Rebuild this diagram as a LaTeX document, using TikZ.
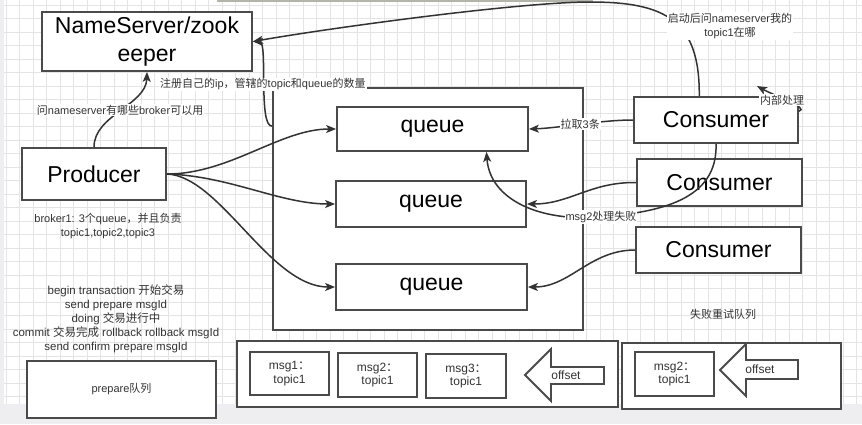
\documentclass[tikz,border=0pt]{standalone}
\usepackage{fontspec}
\setmainfont{Liberation Sans}
\newfontfamily\cjk{Noto Sans CJK SC}
\usetikzlibrary{arrows.meta}
\definecolor{gridcol}{HTML}{E4E4E4}
\definecolor{bandcol}{HTML}{EEEEF0}
\definecolor{topcol}{HTML}{B4B4AC}
\definecolor{boxcol}{HTML}{4A4A4A}
\definecolor{linkcol}{HTML}{333333}
\definecolor{textcol}{HTML}{333333}
\newcommand{\zh}[1]{{\cjk #1}}

\begin{document}
\begin{tikzpicture}[x=1pt,y=-1pt,
  box/.style={draw=boxcol,line width=1.8pt,fill=white,inner sep=0pt,align=center},
  bigtext/.style={font=\fontsize{23}{28}\selectfont},
  smalltext/.style={font=\fontsize{11}{14}\selectfont,text=textcol,align=center},
  msgtext/.style={font=\fontsize{12}{13.5}\selectfont,text=textcol,align=center},
  edgelabel/.style={smalltext,fill=white,inner sep=1pt},
  arrowshape/.style={draw=boxcol,line width=1.8pt,fill=white,line join=miter},
  link/.style={draw=linkcol,line width=1.5pt,-{Stealth[length=10pt,width=8pt,inset=2.5pt]}}]
\useasboundingbox (0,0) rectangle (862,424);
\fill[white] (0,0) rectangle (862,424);
\foreach \gx in {6,19.5,...,862} \draw[gridcol,line width=0.8pt] (\gx,0) -- (\gx,404);
\foreach \gy in {5,18.5,...,404} \draw[gridcol,line width=0.8pt] (0,\gy) -- (862,\gy);
\fill[bandcol] (0,404) rectangle (862,424);
\fill[bandcol] (0,0) rectangle (4,404);
\draw[topcol,line width=2pt] (217,1) -- (593,1);

\node[box,minimum width=310pt,minimum height=242pt] (broker) at (428,209) {};
\node[box,bigtext,minimum width=210pt,minimum height=59pt] (nameserver) at (147,41.5) {NameServer/zook\\eeper};
\node[box,bigtext,minimum width=144pt,minimum height=52pt] (producer) at (94,174) {Producer};
\node[box,bigtext,minimum width=191pt,minimum height=44pt] (queueA) at (432.5,129) {queue};
\node[box,bigtext,minimum width=190pt,minimum height=46pt] (queueB) at (431,204) {queue};
\node[box,bigtext,minimum width=191pt,minimum height=46pt] (queueC) at (431.5,287) {queue};
\node[box,bigtext,minimum width=164pt,minimum height=46pt] (consumerA) at (716,120) {Consumer};
\node[box,bigtext,minimum width=165pt,minimum height=47pt] (consumerB) at (719.5,182.5) {Consumer};
\node[box,bigtext,minimum width=165pt,minimum height=46pt] (consumerC) at (718.5,250) {Consumer};

\node[box,smalltext,minimum width=189pt,minimum height=57pt] (prepare) at (121.5,389.5) {prepare\zh{队列}};
\node[box,minimum width=381pt,minimum height=66pt] (queuebar) at (427.5,374) {};
\node[box,msgtext,minimum width=79pt,minimum height=43pt] (msgA) at (289.5,373.5) {msg1\zh{：}\\topic1};
\node[box,msgtext,minimum width=79pt,minimum height=44pt] (msgB) at (377.5,375) {msg2\zh{：}\\topic1};
\node[box,msgtext,minimum width=80pt,minimum height=44pt] (msgC) at (466,376) {msg3\zh{：}\\topic1};
\draw[arrowshape] (525,375) -- (551,349) -- (551,367) -- (604,367) -- (604,384) -- (551,384) -- (551,401) -- cycle;
\node[msgtext] (offsetA) at (566,375) {offset};
\node[box,minimum width=219pt,minimum height=66pt] (retrybar) at (731.5,376) {};
\node[box,msgtext,minimum width=79pt,minimum height=44pt] (retrymsg) at (674.5,374) {msg2\zh{：}\\topic1};
\draw[arrowshape] (720,370) -- (746,344) -- (746,360) -- (798,360) -- (798,379) -- (746,379) -- (746,396) -- cycle;
\node[msgtext] (offsetB) at (760,369) {offset};
\node[smalltext] (retrytitle) at (723,314) {\zh{失败重试队列}};

\node[smalltext] (brokerinfo) at (108,226) {broker1: 3\zh{个}queue\zh{，并且负责}\\topic1,topic2,topic3};
\node[smalltext,font=\fontsize{11.5}{14}\selectfont] (txn) at (116,319) {begin transaction \zh{开始交易}\\send prepare msgId\\doing \zh{交易进行中}\\commit \zh{交易完成} rollback rollback msgId\\send confirm prepare msgId};

\draw[link] (producer.north) .. controls (94,115) and (146,105) .. (nameserver.south)
  node[midway,edgelabel] {\zh{问}nameserver\zh{有哪些}broker\zh{可以用}};
\draw[link] (producer.east) .. controls (230,174) and (280,129) .. (queueA.west);
\draw[link] (producer.east) .. controls (230,176) and (280,204) .. (queueB.west);
\draw[link] (producer.east) .. controls (220,176) and (270,287) .. (queueC.west);
\draw[link] (consumerA.125) .. controls (700,20) and (665,2) .. (590,2)
  .. controls (520,2) and (330,28) .. (nameserver.east);
\draw[link] (broker.152) .. controls (258,127) and (268,42) .. (nameserver.east)
  node[midway,edgelabel] {\zh{注册自己的}ip\zh{，管辖的}topic\zh{和}queue\zh{的数量}};
\draw[link] (consumerA.west) .. controls (600,120) and (560,128) .. (queueA.east)
  node[midway,edgelabel] {\zh{拉取}3\zh{条}};
\draw[link] (consumerA.6) .. controls (810,108) and (775,96) .. (757,86);
\draw[link] (consumerB.west) .. controls (590,182) and (570,204) .. (queueB.east);
\draw[link] (consumerC.west) .. controls (590,250) and (570,287) .. (queueC.east);
\draw[link] (consumerA.south) .. controls (718,200) and (660,212) .. (601,217)
  .. controls (540,222) and (490,200) .. (queueA.-23);

\node[edgelabel] (loopinfo) at (782,100) {\zh{内部处理}};
\node[edgelabel] (failinfo) at (601,217) {msg2\zh{处理失败}};
\node[edgelabel] (askinfo) at (730,26) {\zh{启动后问}nameserver\zh{我的}\\topic1\zh{在哪}};
\end{tikzpicture}
\end{document}
